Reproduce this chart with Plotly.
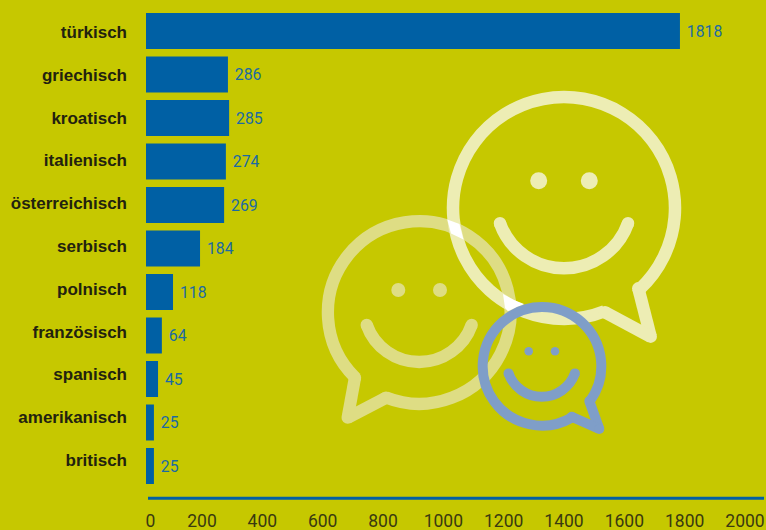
import math
import plotly.graph_objects as go

W, H = 766, 530
categories = ["türkisch", "griechisch", "kroatisch", "italienisch", "österreichisch",
              "serbisch", "polnisch", "französisch", "spanisch", "amerikanisch", "britisch"]
printed_values = [1818, 286, 285, 274, 269, 184, 118, 64, 45, 25, 25]
# bar lengths as drawn in the picture (they differ a little from the printed numbers)
bar_lengths = [1818, 279, 283, 272, 266, 184, 92, 54, 41, 27, 27]
tick_values = [0, 200, 400, 600, 800, 1000, 1200, 1400, 1600, 1800, 2000]
tick_labels = ["\u00a0\u00a0\u00a0\u00a00", "200", "400", "600", "800", "1000", "1200", "1400", "1600", "1800", "2000"]

BG = "#C6C800"
BAR = "#0060A4"
LABEL_BLUE = "#1B6AA3"
FONT = "Roboto"


def px(x):
    return x / W


def py(y):
    return 1 - y / H


def arc_path(cx, cy, r, a0, a1):
    """Bezier path of a circular arc, in paper coordinates (angles in degrees, screen sense)."""
    n = max(1, math.ceil(abs(a1 - a0) / 45))
    step = math.radians(a1 - a0) / n
    k = 4 / 3 * math.tan(step / 4)
    a = math.radians(a0)
    sx, sy = cx + r * math.cos(a), cy + r * math.sin(a)
    s = f"M{px(sx):.5f},{py(sy):.5f}"
    for i in range(n):
        b = a + step
        c1 = (cx + r * (math.cos(a) - k * math.sin(a)), cy + r * (math.sin(a) + k * math.cos(a)))
        c2 = (cx + r * (math.cos(b) + k * math.sin(b)), cy + r * (math.sin(b) - k * math.cos(b)))
        e = (cx + r * math.cos(b), cy + r * math.sin(b))
        s += f" C{px(c1[0]):.5f},{py(c1[1]):.5f} {px(c2[0]):.5f},{py(c2[1]):.5f} {px(e[0]):.5f},{py(e[1]):.5f}"
        a = b
    return s


def dot(x, y, r, color):
    return dict(type="circle", xref="paper", yref="paper", x0=px(x - r), x1=px(x + r),
                y0=py(y + r), y1=py(y - r), fillcolor=color, line=dict(width=0), layer="above")


def seg(p, q, lw, color):
    return dict(type="line", xref="paper", yref="paper", x0=px(p[0]), y0=py(p[1]), x1=px(q[0]), y1=py(q[1]),
                line=dict(color=color, width=lw), layer="above")


def bubble(c, r, lw, color, tail_start, tip, tail_end, eyes, eye_r, smile):
    cx, cy = c
    shapes = []
    a_start = math.degrees(math.atan2(tail_end[1] - cy, tail_end[0] - cx))
    a_end = math.degrees(math.atan2(tail_start[1] - cy, tail_start[0] - cx))
    # the ring always runs the long way round, away from the tail
    delta = (a_end - a_start) % 360
    if delta < 180:
        delta -= 360
    shapes.append(dict(type="path", xref="paper", yref="paper", path=arc_path(cx, cy, r, a_start, a_start + delta),
                       layer="above", line=dict(color=color, width=lw)))
    shapes.append(seg(tail_start, tip, lw, color))
    shapes.append(seg(tip, tail_end, lw, color))
    for p in (tail_start, tip, tail_end):
        shapes.append(dot(p[0], p[1], lw / 2, color))
    for e in eyes:
        shapes.append(dot(e[0], e[1], eye_r, color))
    scx, scy, sr, half = smile
    a = math.degrees(math.asin(half / sr))
    shapes.append(dict(type="path", xref="paper", yref="paper", layer="above",
                       path=arc_path(scx, scy, sr, 90 + a, 90 - a), line=dict(color=color, width=lw)))
    for sgn in (-1, 1):
        ang = math.radians(90 + sgn * a)
        shapes.append(dot(scx + sr * math.cos(ang), scy + sr * math.sin(ang), lw / 2, color))
    return shapes


def patch(points):
    d = "M" + " L".join(f"{px(x):.5f},{py(y):.5f}" for x, y in points) + " Z"
    return dict(type="path", xref="paper", yref="paper", path=d, fillcolor="#FFFFFF",
                line=dict(width=0), layer="above")


shapes = []
# left bubble
shapes += bubble((419.2, 312.5), 91.3, 12.3, "#DEDD84", (355, 377.7), (347.7, 417.7), (386, 397.7),
                 [(398.3, 290), (440, 290)], 7, (419.2, 306.3, 55.7, 52.5))
# large bubble
shapes += bubble((564, 208), 111, 12.5, "#EDEDB4", (638.3, 288.3), (650.7, 336.7), (605, 312.3),
                 [(538.7, 180.7), (589.3, 180.7)], 8.5, (564, 200.3, 68, 64))
# overlaps of the two pale rings
shapes.append(patch([(447.3, 219.5), (459.5, 224), (463.5, 239.5), (451, 233.5)]))
shapes.append(patch([(503, 294), (514, 300), (524, 304), (508, 311), (505, 308)]))
# blue bubble
shapes += bubble((542, 366.3), 59.3, 10, "#7F9EC8", (589.3, 401), (599.3, 429), (571.7, 416.7),
                 [(528.7, 351.3), (555, 351.3)], 4.3, (541.7, 361.4, 35.3, 33.2))
# base line
shapes.append(dict(type="line", xref="paper", yref="paper", x0=px(148), x1=px(764), y0=py(498.3), y1=py(498.3),
                   line=dict(color=BAR, width=3), layer="above"))

fig = go.Figure()
fig.add_trace(go.Bar(
    y=categories, x=bar_lengths, orientation="h", marker=dict(color=BAR, line=dict(width=0)),
    text=[f"\u00a0{v}" for v in printed_values], textposition="outside", cliponaxis=False,
    textfont=dict(family=FONT, size=15.8, color=LABEL_BLUE), hoverinfo="skip",
    xaxis="x", yaxis="y",
))
# carries the separately placed category labels and the value axis ticks
fig.add_trace(go.Bar(
    y=categories, x=printed_values, orientation="h", opacity=0, showlegend=False, hoverinfo="skip",
    xaxis="x2", yaxis="y2",
))

fig.update_layout(
    width=W, height=H, autosize=False, showlegend=False,
    margin=dict(l=0, r=0, t=0, b=0, pad=0),
    paper_bgcolor=BG, plot_bgcolor="rgba(0,0,0,0)",
    bargap=0.172,
    shapes=shapes,
    xaxis=dict(domain=[px(146), 1], range=[0, 620 / 0.2937], visible=False, anchor="y"),
    yaxis=dict(domain=[py(487.75), py(9.25)], type="category", categoryarray=categories,
               autorange="reversed", visible=False, anchor="x"),
    xaxis2=dict(domain=[px(141.7), px(745)], range=[0, 2000], anchor="free", position=py(508.5),
                side="bottom", tickmode="array", tickvals=tick_values, ticktext=tick_labels,
                ticks="", showgrid=False, zeroline=False, showline=False, automargin=False,
                tickfont=dict(family=FONT, size=17.5, color="#3A3A10")),
    yaxis2=dict(domain=[py(481.4), py(10.6)], type="category", categoryarray=categories,
                autorange="reversed", anchor="free", position=px(127), side="left",
                tickmode="array", tickvals=categories, ticktext=categories,
                ticks="", showgrid=False, zeroline=False, showline=False, automargin=False,
                tickfont=dict(family="Liberation Sans", size=17, color="#22220F", weight="bold")),
)

fig.write_html("out.html", config={"displayModeBar": False},
               post_script="document.body.style.margin='0';document.body.style.overflow='hidden';")
